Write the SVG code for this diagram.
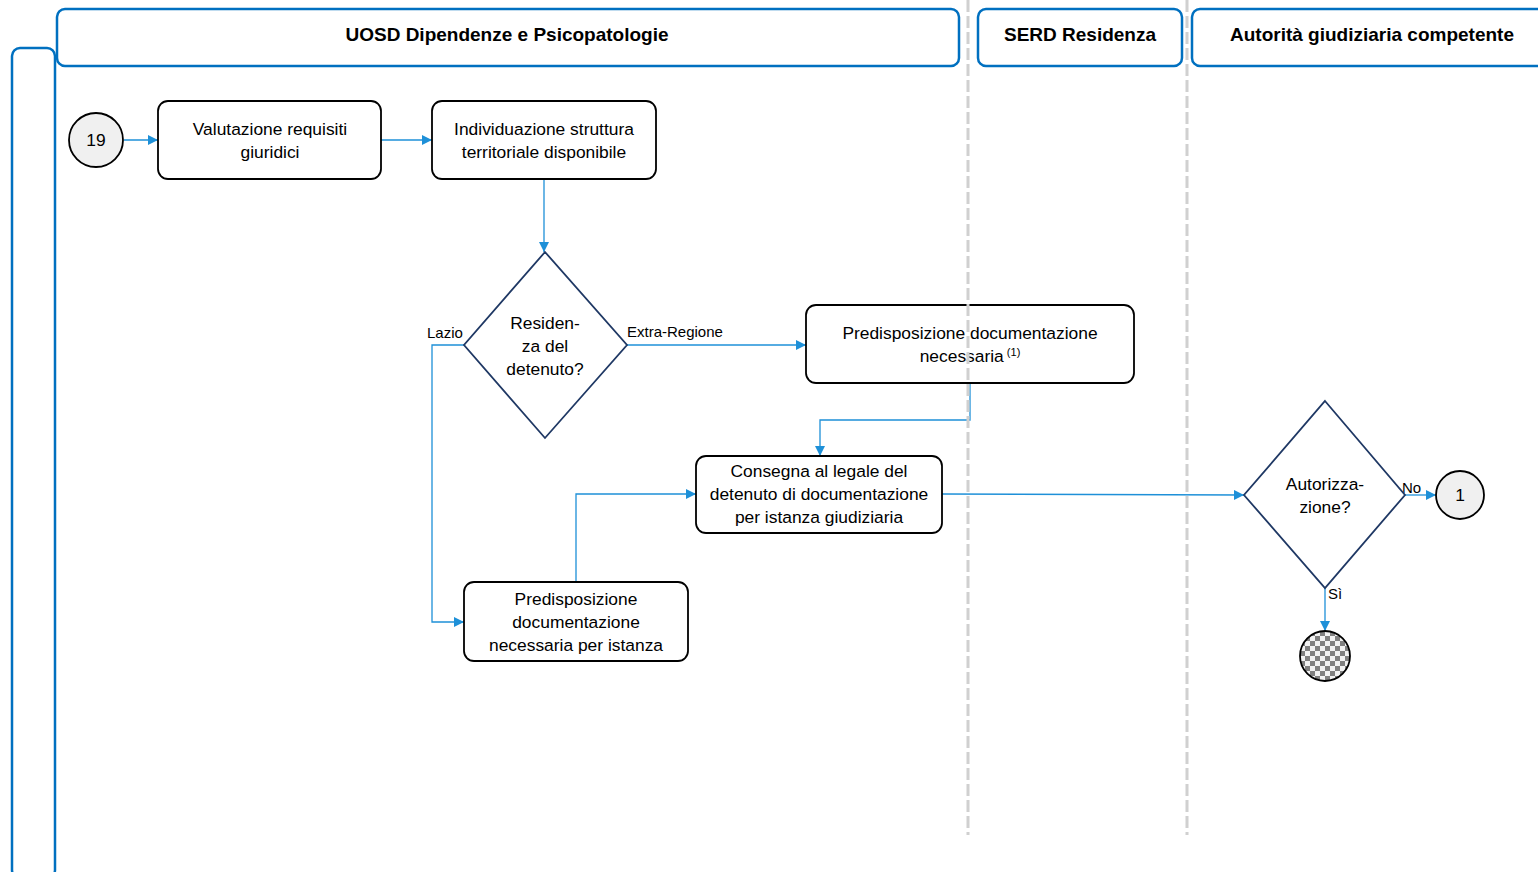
<svg xmlns="http://www.w3.org/2000/svg" width="1538" height="872" viewBox="0 0 1538 872">
<style>
.lane{fill:#fff;stroke:#0070C0;stroke-width:2.5}
.hdr{font-family:"Liberation Sans",Arial,sans-serif;font-size:19px;font-weight:bold;fill:#000;text-anchor:middle}
.sep{stroke:#d0d0d0;stroke-width:3;stroke-dasharray:12,4;fill:none}
.box{fill:#fff;stroke:#000;stroke-width:1.8}
.dia{fill:#fff;stroke:#1F3864;stroke-width:1.8}
.circ{fill:#f0f0f0;stroke:#000;stroke-width:1.8}
.t{font-family:"Liberation Sans",Arial,sans-serif;font-size:17.4px;fill:#000;text-anchor:middle}
.lbl{font-family:"Liberation Sans",Arial,sans-serif;font-size:15px;fill:#000}
.con{fill:none;stroke:#1E90D8;stroke-width:1.3}
</style>
<defs>
<marker id="arr" viewBox="0 0 10 10" refX="10" refY="5" markerWidth="10" markerHeight="10" markerUnits="userSpaceOnUse" orient="auto">
<path d="M0,0 L10,5 L0,10 Z" fill="#1E90D8"/>
</marker>
<pattern id="chk" width="10" height="10" patternUnits="userSpaceOnUse" x="1300" y="631">
<rect width="10" height="10" fill="#f2f2f2"/>
<rect width="5" height="5" fill="#808080"/>
<rect x="5" y="5" width="5" height="5" fill="#808080"/>
</pattern>
</defs>

<g id="lanes">
<rect class="lane" x="12" y="48" width="43" height="830" rx="8"/>
<rect class="lane" x="57" y="9" width="902" height="57" rx="8"/>
<text class="hdr" x="507" y="41">UOSD Dipendenze e Psicopatologie</text>
<rect class="lane" x="978" y="9" width="204" height="57" rx="8"/>
<text class="hdr" x="1080" y="41">SERD Residenza</text>
<rect class="lane" x="1192" y="9" width="360" height="57" rx="8"/>
<text class="hdr" x="1372" y="41">Autorità giudiziaria competente</text>
</g>

<g id="connectors">
<line class="con" x1="124" y1="140" x2="158" y2="140" marker-end="url(#arr)"/>
<line class="con" x1="381" y1="140" x2="432" y2="140" marker-end="url(#arr)"/>
<line class="con" x1="544" y1="179" x2="544" y2="252" marker-end="url(#arr)"/>
<polyline class="con" points="464,345 432,345 432,622 464,622" marker-end="url(#arr)"/>
<text class="lbl" x="427" y="338">Lazio</text>
<line class="con" x1="627" y1="345" x2="806" y2="345" marker-end="url(#arr)"/>
<text class="lbl" x="627" y="337">Extra-Regione</text>
<polyline class="con" points="970,383 970,420 820,420 820,456" marker-end="url(#arr)"/>
<polyline class="con" points="576,582 576,494 696,494" marker-end="url(#arr)"/>
<line class="con" x1="942" y1="494" x2="1244" y2="495" marker-end="url(#arr)"/>
<line class="con" x1="1405" y1="495" x2="1436" y2="495" marker-end="url(#arr)"/>
<text class="lbl" x="1402" y="493">No</text>
<line class="con" x1="1325" y1="588" x2="1325" y2="631" marker-end="url(#arr)"/>
<text class="lbl" x="1328" y="599">Sì</text>
</g>

<g id="n19">
<circle class="circ" cx="96" cy="140" r="27"/>
<text class="t" x="96" y="146">19</text>
</g>
<g id="valutazione">
<rect class="box" x="158" y="101" width="223" height="78" rx="10"/>
<text class="t" x="270" y="135">Valutazione requisiti</text>
<text class="t" x="270" y="158">giuridici</text>
</g>
<g id="individuazione">
<rect class="box" x="432" y="101" width="224" height="78" rx="10"/>
<text class="t" x="544" y="135">Individuazione struttura</text>
<text class="t" x="544" y="158">territoriale disponibile</text>
</g>
<g id="residenza">
<polygon class="dia" points="545,252 627,345 545,438 464,345"/>
<text class="t" x="545" y="329">Residen-</text>
<text class="t" x="545" y="352">za del</text>
<text class="t" x="545" y="375">detenuto?</text>
</g>
<g id="predisp1">
<rect class="box" x="806" y="305" width="328" height="78" rx="10"/>
<text class="t" x="970" y="339">Predisposizione documentazione</text>
<text class="t" x="970" y="362">necessaria<tspan font-size="11" dy="-6"> (1)</tspan></text>
</g>
<g id="consegna">
<rect class="box" x="696" y="456" width="246" height="77" rx="10"/>
<text class="t" x="819" y="477">Consegna al legale del</text>
<text class="t" x="819" y="500">detenuto di  documentazione</text>
<text class="t" x="819" y="523">per istanza  giudiziaria</text>
</g>
<g id="predisp2">
<rect class="box" x="464" y="582" width="224" height="79" rx="10"/>
<text class="t" x="576" y="605">Predisposizione</text>
<text class="t" x="576" y="628">documentazione</text>
<text class="t" x="576" y="651">necessaria per istanza</text>
</g>
<g id="autorizzazione">
<polygon class="dia" points="1325,401 1405,495 1325,588 1244,495"/>
<text class="t" x="1325" y="490">Autorizza-</text>
<text class="t" x="1325" y="513">zione?</text>
</g>
<g id="n1">
<circle class="circ" cx="1460" cy="495" r="24"/>
<text class="t" x="1460" y="501">1</text>
</g>
<g id="end">
<circle cx="1325" cy="656" r="25" fill="url(#chk)" stroke="#000" stroke-width="1.8"/>
</g>

<g id="separators">
<line class="sep" x1="968" y1="0" x2="968" y2="835"/>
<line class="sep" x1="1187" y1="0" x2="1187" y2="835"/>
</g>
</svg>
